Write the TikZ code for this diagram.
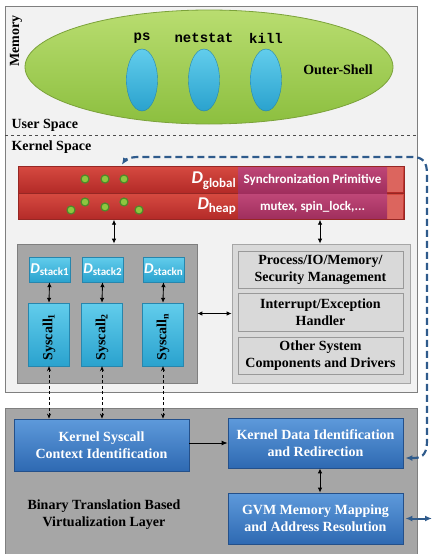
\documentclass[tikz,border=0pt]{standalone}
\usepackage{fontspec}
\setmainfont{Liberation Serif}
\newfontfamily\carl{Carlito}
\newfontfamily\cour{Liberation Mono}
\usetikzlibrary{arrows.meta,calc,shapes.geometric}
\definecolor{memfill}{HTML}{F2F2F2}
\definecolor{frame}{HTML}{7F7F7F}
\definecolor{gtop}{HTML}{B9DD70}
\definecolor{gbot}{HTML}{8CBF3F}
\definecolor{gdraw}{HTML}{7BA23A}
\definecolor{ctop}{HTML}{62CDEC}
\definecolor{cbot}{HTML}{2AA2CE}
\definecolor{cdraw}{HTML}{2786AD}
\definecolor{rtop}{HTML}{D64A41}
\definecolor{rbot}{HTML}{B32A27}
\definecolor{rdraw}{HTML}{962724}
\definecolor{ptop}{HTML}{BE4677}
\definecolor{pbot}{HTML}{A02E5D}
\definecolor{btop}{HTML}{5E9ADB}
\definecolor{bbot}{HTML}{2E69B2}
\definecolor{bdraw}{HTML}{24508A}
\definecolor{dgray}{HTML}{A6A6A6}
\definecolor{lgray}{HTML}{D9D9D9}
\definecolor{dblue}{HTML}{2F5B8C}
\definecolor{dotg}{HTML}{8DC63F}
\definecolor{dotd}{HTML}{4E8A2A}
\begin{document}
\begin{tikzpicture}[x=1pt,y=-1pt,
  wh/.style 2 args={minimum width=#1pt,minimum height=#2pt,inner sep=0pt},
  tb/.style={font=\fontsize{14}{17}\selectfont\bfseries,align=center},
  redbar/.style={draw=rdraw,top color=rtop,bottom color=rbot},
  pinkbox/.style={top color=ptop,bottom color=pbot,text=white,font=\carl\bfseries\fontsize{13}{15}\selectfont},
  cyanbox/.style={draw=cdraw,top color=ctop,bottom color=cbot},
  bluebox/.style={draw=bdraw,line width=0.8pt,top color=btop,bottom color=bbot,text=white,tb},
  graybox/.style={draw=frame!80,fill=lgray,line width=0.8pt,tb},
  dot/.style={circle,draw=dotd,fill=dotg,line width=1.2pt,minimum size=8pt,inner sep=0pt},
  arr/.style={line width=0.9pt,{Latex[length=5pt,width=4.5pt]}-{Latex[length=5pt,width=4.5pt]}},
  darr/.style={line width=0.8pt,dash pattern=on 3pt off 2.5pt,{Stealth[length=5pt,width=4pt]}-{Stealth[length=5pt,width=4pt]}},
  bdash/.style={dblue,line width=2.2pt,dash pattern=on 7pt off 4pt,{Latex[length=7pt,width=6pt]}-{Latex[length=7pt,width=6pt]}},
  bsolid/.style={dblue,line width=2pt,{Latex[length=7pt,width=6pt]}-{Latex[length=7pt,width=6pt]}}]
\useasboundingbox (0,0) rectangle (432,554);
% memory box
\node[wh={412}{386},draw=frame,fill=memfill,line width=0.8pt] (mem) at (211,199) {};
\coordinate (sepL) at (5,135);
\coordinate (sepR) at (417,135);
\draw[dashed,line width=0.6pt,black!70] (sepL) -- (sepR);
\node[tb,rotate=90] (memlbl) at (16,41) {Memory};
\node[tb,anchor=west] (ulbl) at (8,125) {User Space};
\node[tb,anchor=west] (klbl) at (8,147) {Kernel Space};
% outer shell
\node[ellipse,wh={368}{114},draw=gdraw,top color=gtop,bottom color=gbot,line width=0.8pt] (shell) at (209,67) {};
\node[ellipse,wh={31}{62},cyanbox] (e1) at (142,80) {};
\node[ellipse,wh={31}{62},cyanbox] (e2) at (204,80) {};
\node[ellipse,wh={31}{62},cyanbox] (e3) at (266,80) {};
\node[font=\cour\bfseries\fontsize{14}{14}\selectfont] (l1) at (142,38) {ps};
\node[font=\cour\bfseries\fontsize{14}{14}\selectfont] (l2) at (204,38) {netstat};
\node[font=\cour\bfseries\fontsize{14}{14}\selectfont] (l3) at (266,38) {kill};
\node[tb] (osl) at (338,70) {Outer-Shell};
% red bars
\node[wh={386}{27},redbar] (rglob) at (211,179.5) {};
\node[wh={386}{26},redbar] (rheap) at (211,206.5) {};
\node[wh={16}{25},fill=rtop!85!white] (rend1) at (395,179.5) {};
\node[wh={16}{24},fill=rtop!85!white] (rend2) at (395,206.5) {};
\node[wh={149}{26},pinkbox] (sync) at (312.5,180) {Synchronization Primitive};
\node[wh={149}{24},pinkbox] (mutex) at (312.5,206.5) {mutex, spin\_lock,...};
\node[anchor=east,text=white,inner sep=0pt] (dglob) at (236,181) {{\carl\bfseries\itshape\fontsize{18}{18}\selectfont D}{\carl\bfseries\fontsize{13}{13}\selectfont\raisebox{-3.5pt}{global}}};
\node[anchor=east,text=white,inner sep=0pt] (dheap) at (236,206) {{\carl\bfseries\itshape\fontsize{18}{18}\selectfont D}{\carl\bfseries\fontsize{13}{13}\selectfont\raisebox{-3.5pt}{heap}}};
\node[dot] (g1) at (85,179) {};
\node[dot] (g2) at (105,179) {};
\node[dot] (g3) at (124,179) {};
\node[dot] (g4) at (71,210) {};
\node[dot] (g5) at (85,202) {};
\node[dot] (g6) at (105,207) {};
\node[dot] (g7) at (124,202) {};
\node[dot] (g8) at (139,210) {};
% kernel boxes
\node[wh={180}{139},draw=frame,fill=dgray,line width=0.8pt] (lg) at (107,313.5) {};
\node[wh={178}{139},draw=dgray,fill=lgray,line width=0.8pt] (rg) at (321,313.5) {};
\node[wh={165}{37},graybox] (pm) at (320.5,269.5) {Process/IO/Memory/\\Security Management};
\node[wh={165}{38},graybox] (ie) at (320.5,312) {Interrupt/Exception\\Handler};
\node[wh={165}{37},graybox] (os) at (320.5,355.5) {Other System\\Components and Drivers};
\coordinate (ax1) at (114,0);
\coordinate (ax2) at (320,0);
\draw[arr] (rheap.south -| ax1) -- (lg.north -| ax1);
\draw[arr] (rheap.south -| ax2) -- (rg.north -| ax2);
\draw[arr] (lg.east) -- (rg.west);
% stacks and syscalls
\foreach \i/\x/\s in {1/49.5/stack1,2/102.5/stack2,3/163.5/stackn}{
  \node[wh={41}{25},cyanbox,text=white] (ds\i) at (\x,269.5) {{\carl\bfseries\itshape\fontsize{15}{15}\selectfont D}{\carl\bfseries\fontsize{11}{11}\selectfont\raisebox{-2.5pt}{\s}}};
}
\foreach \i/\x/\s in {1/49/1,2/102/2,3/163/n}{
  \node[wh={41}{63},cyanbox] (sc\i) at (\x,334.5) {};
  \node[tb,rotate=90] (st\i) at (\x,337) {Syscall\textsubscript{\s}};
  \draw[arr] (ds\i.south) -- (sc\i.north);
}
% bottom layer
\node[wh={412}{147},draw=frame,fill=dgray,line width=0.8pt] (bl) at (211,481.5) {};
\node[wh={175}{52},bluebox] (ksc) at (101.5,445) {Kernel Syscall\\Context Identification};
\node[wh={175}{50},bluebox] (kdr) at (315.5,443) {Kernel Data Identification\\and Redirection};
\node[wh={175}{51},bluebox] (gvm) at (315.5,518.5) {GVM Memory Mapping\\and Address Resolution};
\node[tb] (btl) at (104,515) {Binary Translation Based\\Virtualization Layer};
\foreach \i in {1,2,3}{
  \draw[darr] (sc\i.south) -- (sc\i.south |- ksc.north);
}
\draw[line width=0.9pt,-{Latex[length=6pt,width=5pt]}] (ksc.east |- kdr.west) -- (kdr.west);
\draw[arr] (kdr.south -| ax2) -- (gvm.north -| ax2);
% blue dashed redirection path
\draw[bdash] ($(kdr.east)+(2,15)$) -- (414,458) .. controls (424,458) and (427,452) .. (427,440) -- (427,174) .. controls (427,162) and (423,157) .. (412,157) -- (138,157) .. controls (130,157) and (125,160) .. ($(rglob.north west)+(104,-1)$);
\coordinate (gout) at (432,517);
\draw[bsolid] ($(gvm.east)+(2,0)$) -- (gvm.east -| gout);
\end{tikzpicture}
\end{document}
